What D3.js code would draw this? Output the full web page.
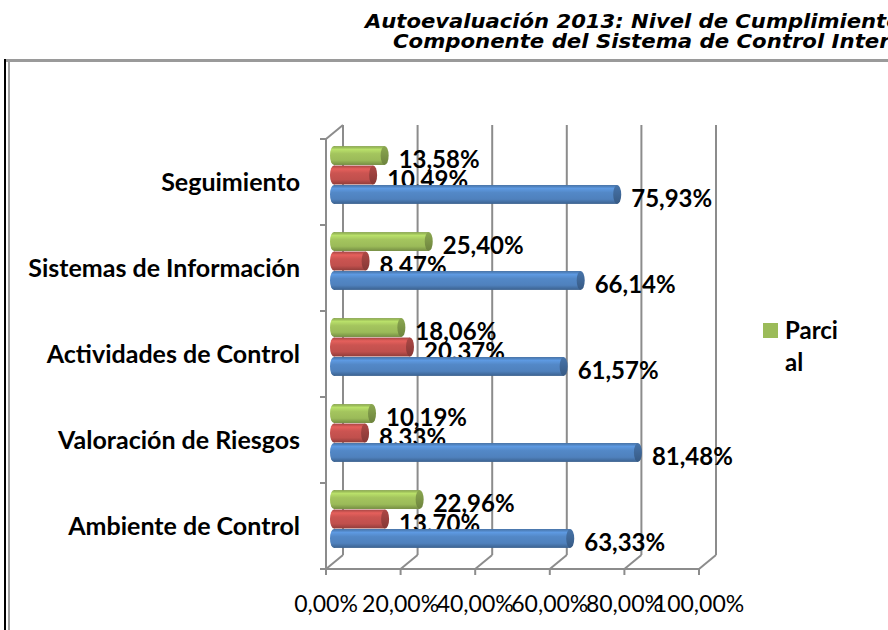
<!DOCTYPE html>
<html>
<head>
<meta charset="utf-8">
<script src="https://cdn.jsdelivr.net/npm/d3@7"></script>
<style>
  body { margin: 0; background: #fff; }
  svg { display: block; }
</style>
</head>
<body>
<svg id="chart"></svg>
<script>
let width = 888;
let height = 630;

// data, top to bottom as drawn
let categories = ["Seguimiento", "Sistemas de Información", "Actividades de Control", "Valoración de Riesgos", "Ambiente de Control"];
let seriesNames = ["Parcial", "Serie 2", "Serie 1"]; // green, red, blue (top to bottom inside a group)
let parcial = [0.1358, 0.2540, 0.1806, 0.1019, 0.2296];
let serie2 = [0.1049, 0.0847, 0.2037, 0.0833, 0.1370];
let serie1 = [0.7593, 0.6614, 0.6157, 0.8148, 0.6333];
let ticks = [0, 0.2, 0.4, 0.6, 0.8, 1.0];
let colors = {"Parcial": "#9BBB59", "Serie 2": "#C0504D", "Serie 1": "#4F81BD"};
let values = {"Parcial": parcial, "Serie 2": serie2, "Serie 1": serie1};

let svg = d3.select("#chart").attr("width", width).attr("height", height);

// 3D depth of the plot box
let dx = 17, dy = -14;

let x = d3.scaleLinear().domain([0, 1]).range([326, 699]);
let y = d3.scaleBand().domain(categories).range([139, 569]);
let inner = d3.scaleBand().domain(seriesNames).range([-29.5, 29.5]).padding(0.03);

// frame and title
svg.append("line").attr("x1", 4).attr("x2", width).attr("y1", 60.5).attr("y2", 60.5)
    .attr("stroke", "#9a9a9a").attr("stroke-width", 3);
svg.append("line").attr("x1", 5).attr("x2", 5).attr("y1", 59).attr("y2", height)
    .attr("stroke", "#000").attr("stroke-width", 2);
svg.append("line").attr("x1", 9).attr("x2", 9).attr("y1", 62).attr("y2", height)
    .attr("stroke", "#a0a0a0").attr("stroke-width", 2);

// title runs past the right edge, as in the original
let title = svg.append("g")
    .attr("font-family", "DejaVu Sans")
    .attr("font-weight", "bold")
    .attr("font-style", "italic")
    .attr("font-size", 19);
title.append("text").attr("transform", "translate(365,28) scale(1.112,1)").text("Autoevaluación 2013: Nivel de Cumplimiento");
title.append("text").attr("transform", "translate(393,48) scale(1.118,1)").text("Componente del Sistema de Control Interno");

// back wall gridlines + floor
let grid = svg.append("g").attr("stroke", "#8c8c8c").attr("stroke-width", 2).attr("fill", "none");
grid.selectAll("line.back").data(ticks).enter().append("line")
    .attr("x1", d => x(d) + dx).attr("x2", d => x(d) + dx)
    .attr("y1", 139 + dy).attr("y2", 569 + dy);
grid.selectAll("line.floor").data(ticks).enter().append("line")
    .attr("x1", d => x(d)).attr("x2", d => x(d) + dx)
    .attr("y1", 569).attr("y2", 569 + dy);

// front axes
let axisG = svg.append("g").attr("stroke", "#8c8c8c").attr("stroke-width", 2);
axisG.append("line").attr("x1", x(0)).attr("x2", x(1)).attr("y1", 569).attr("y2", 569);
axisG.append("line").attr("x1", x(0)).attr("x2", x(0)).attr("y1", 139).attr("y2", 569);
axisG.append("line").attr("x1", x(0)).attr("x2", x(0) + dx).attr("y1", 139).attr("y2", 139 + dy);
axisG.selectAll("line.xt").data(ticks).enter().append("line")
    .attr("x1", d => x(d)).attr("x2", d => x(d)).attr("y1", 569).attr("y2", 575);
let bounds = categories.map(c => y(c)).concat([569]);
axisG.selectAll("line.yt").data(bounds).enter().append("line")
    .attr("x1", x(0) - 6).attr("x2", x(0)).attr("y1", d => d).attr("y2", d => d);

// tick labels
let pct = d3.format(".2%");
let fmt = v => pct(v).replace(".", ",");
svg.append("g").selectAll("text").data(ticks).enter().append("text")
    .attr("x", d => x(d)).attr("y", 612)
    .attr("text-anchor", "middle")
    .attr("font-family", "Lato").attr("font-size", 23)
    .attr("fill", "#000")
    .text(d => fmt(d));

// category labels
svg.append("g").selectAll("text").data(categories).enter().append("text")
    .attr("x", 300).attr("y", d => y(d) + y.bandwidth() / 2)
    .attr("dy", "0.36em")
    .attr("text-anchor", "end")
    .attr("font-family", "Lato").attr("font-weight", "bold").attr("font-size", 25)
    .attr("fill", "#000")
    .text(d => d);

// cylinder gradients
let defs = svg.append("defs");
seriesNames.forEach(function (s, i) {
    let c = d3.color(colors[s]);
    let g = defs.append("linearGradient").attr("id", "grad" + i)
        .attr("x1", 0).attr("y1", 0).attr("x2", 0).attr("y2", 1);
    g.append("stop").attr("offset", "0%").attr("stop-color", c.darker(0.4));
    g.append("stop").attr("offset", "18%").attr("stop-color", c.brighter(0.5));
    g.append("stop").attr("offset", "40%").attr("stop-color", c.brighter(0.15));
    g.append("stop").attr("offset", "75%").attr("stop-color", c);
    g.append("stop").attr("offset", "100%").attr("stop-color", c.darker(0.8));
    let gc = defs.append("linearGradient").attr("id", "cap" + i)
        .attr("x1", 0).attr("y1", 0).attr("x2", 0).attr("y2", 1);
    gc.append("stop").attr("offset", "0%").attr("stop-color", c.darker(0.3));
    gc.append("stop").attr("offset", "100%").attr("stop-color", c.darker(1.0));
});

let bh = inner.bandwidth();
let rx = 4;
let off = 8; // bars sit at mid depth

let rows = [];
categories.forEach(function (c, ci) {
    seriesNames.forEach(function (s, si) {
        rows.push({cat: c, series: s, si: si, value: values[s][ci]});
    });
});

let barG = svg.append("g");
let bar = barG.selectAll("g").data(rows).enter().append("g")
    .attr("transform", d => "translate(0," + (y(d.cat) + y.bandwidth() / 2 - 7 + inner(d.series)) + ")");

bar.append("ellipse")
    .attr("cx", x(0) + off).attr("cy", bh / 2).attr("rx", rx).attr("ry", bh / 2)
    .attr("fill", d => "url(#grad" + d.si + ")");
bar.append("rect")
    .attr("x", x(0) + off).attr("y", 0)
    .attr("width", d => x(d.value) - x(0))
    .attr("height", bh)
    .attr("fill", d => "url(#grad" + d.si + ")");
bar.append("ellipse")
    .attr("cx", d => x(d.value) + off).attr("cy", bh / 2).attr("rx", rx).attr("ry", bh / 2)
    .attr("fill", d => "url(#cap" + d.si + ")");

// value labels
bar.append("text")
    .attr("x", d => x(d.value) + off + rx + 10)
    .attr("y", bh / 2 + 4)
    .attr("dy", "0.36em")
    .attr("font-family", "Lato").attr("font-weight", "bold").attr("font-size", 24)
    .attr("fill", "#000")
    .text(d => fmt(d.value));

// legend (only the visible entry)
let legend = svg.append("g")
    .attr("font-family", "Lato").attr("font-weight", "bold").attr("font-size", 24);
legend.append("rect").attr("x", 763).attr("y", 323).attr("width", 15).attr("height", 15)
    .attr("fill", colors["Parcial"]);
legend.append("text").attr("x", 785).attr("y", 339).text("Parci");
legend.append("text").attr("x", 785).attr("y", 371).text("al");
</script>
</body>
</html>
